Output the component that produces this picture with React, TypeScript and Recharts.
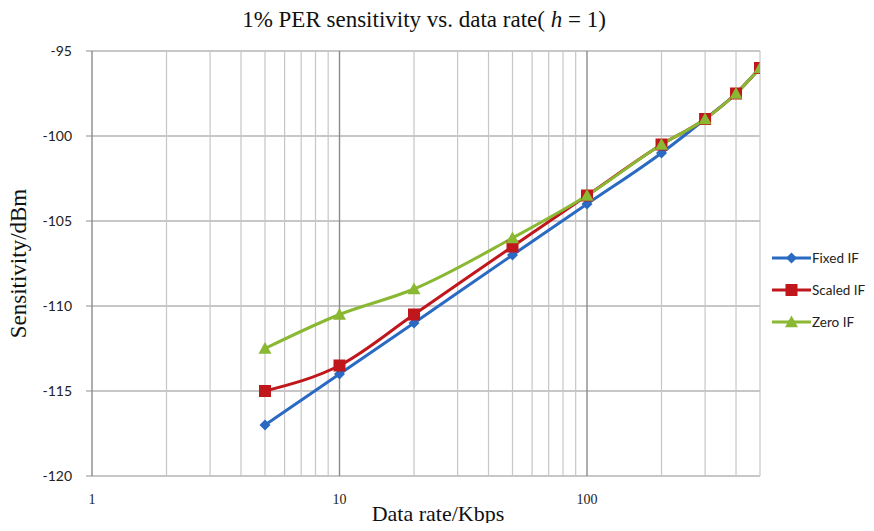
import {
  CartesianGrid,
  Label,
  Legend,
  Line,
  LineChart,
  ReferenceLine,
  XAxis,
  YAxis,
} from "recharts";

const rates = [5, 10, 20, 50, 100, 200, 300, 400, 500];
const fixedIF = [-117, -114, -111, -107, -104, -101, -99, -97.5, -96];
const scaledIF = [-115, -113.5, -110.5, -106.5, -103.5, -100.5, -99, -97.5, -96];
const zeroIF = [-112.5, -110.5, -109, -106, -103.5, -100.5, -99, -97.5, -96];

const majorX = [1, 10, 100];
const minorX = [2, 3, 4, 5, 6, 7, 8, 9, 20, 30, 40, 50, 60, 70, 80, 90, 200, 300, 400, 500];
const yTicks = [-120, -115, -110, -105, -100, -95];

const chartData = rates.map((rate, i) => ({
  rate,
  fixed: fixedIF[i],
  scaled: scaledIF[i],
  zero: zeroIF[i],
}));

const series = [
  { key: "fixed", name: "Fixed IF", color: "#2a6ac2", shape: "diamond" },
  { key: "scaled", name: "Scaled IF", color: "#c0171d", shape: "square" },
  { key: "zero", name: "Zero IF", color: "#8ab833", shape: "triangle" },
];

const serif = "'Liberation Serif', 'Times New Roman', serif";
const sans = "Lato, 'Open Sans', sans-serif";

function Marker({ cx, cy, shape, color }: { cx: number; cy: number; shape: string; color: string }) {
  if (shape === "diamond") {
    const r = 5.5;
    return <polygon points={`${cx},${cy - r} ${cx + r},${cy} ${cx},${cy + r} ${cx - r},${cy}`} fill={color} />;
  }
  if (shape === "square") {
    const r = 6;
    return <rect x={cx - r} y={cy - r} width={2 * r} height={2 * r} fill={color} />;
  }
  const r = 6.5;
  return <polygon points={`${cx},${cy - r} ${cx + r},${cy + r * 0.8} ${cx - r},${cy + r * 0.8}`} fill={color} />;
}

function renderLegend() {
  return (
    <div style={{ fontFamily: sans, fontSize: 13.5, color: "#222" }}>
      {series.map((s) => (
        <div key={s.key} style={{ display: "flex", alignItems: "center", height: 32 }}>
          <svg width={39} height={16}>
            <line x1={0} y1={8} x2={39} y2={8} stroke={s.color} strokeWidth={3} />
            <Marker cx={19.5} cy={8} shape={s.shape} color={s.color} />
          </svg>
          <span style={{ marginLeft: 1, whiteSpace: "nowrap" }}>{s.name}</span>
        </div>
      ))}
    </div>
  );
}

export default function App() {
  return (
    <div style={{ position: "relative", width: 874, height: 531, margin: -8, background: "#fff" }}>
      <div
        style={{
          position: "absolute",
          top: 7,
          left: -13,
          width: 874,
          textAlign: "center",
          fontFamily: serif,
          fontSize: 23,
          color: "#111",
        }}
      >
        1% PER sensitivity vs. data rate( <i>h</i> = 1)
      </div>
      <LineChart
        width={874}
        height={531}
        data={chartData}
        margin={{ top: 51, right: 114, bottom: 0, left: 0 }}
      >
        <CartesianGrid vertical={false} stroke="#8f8f8f" strokeWidth={1.2} />
        {minorX.map((v) => (
          <ReferenceLine key={`mi${v}`} x={v} stroke="#c6c6c6" strokeWidth={1.2} />
        ))}
        {majorX.map((v) => (
          <ReferenceLine key={`ma${v}`} x={v} stroke="#8a8a8a" strokeWidth={1.4} />
        ))}
        <XAxis
          dataKey="rate"
          type="number"
          scale="log"
          domain={[1, 500]}
          ticks={majorX}
          allowDataOverflow
          axisLine={false}
          tickLine={false}
          tickMargin={12}
          height={55}
          tick={{ fontSize: 14, fill: "#222", fontFamily: serif }}
        >
          <Label
            value="Data rate/Kbps"
            position="insideBottom"
            offset={10}
            dx={12}
            style={{ fontSize: 22, fill: "#111", fontFamily: serif }}
          />
        </XAxis>
        <YAxis
          type="number"
          domain={[-120, -95]}
          ticks={yTicks}
          width={92}
          axisLine={false}
          tickLine={{ stroke: "#8f8f8f" }}
          tickSize={6}
          tickMargin={14}
          tick={{ fontSize: 14, fill: "#222", fontFamily: sans }}
        >
          <Label
            value="Sensitivity/dBm"
            angle={-90}
            position="insideLeft"
            offset={18}
            style={{ textAnchor: "middle", fontSize: 23, fill: "#111", fontFamily: serif }}
          />
        </YAxis>
        <Legend
          layout="horizontal"
          align="center"
          verticalAlign="middle"
          content={renderLegend}
          wrapperStyle={{ top: 242, left: 772, width: 100 }}
        />
        {series.map((s) => (
          <Line
            key={s.key}
            dataKey={s.key}
            name={s.name}
            type="monotone"
            stroke={s.color}
            strokeWidth={3}
            isAnimationActive={false}
            dot={(p: any) => <Marker key={`${s.key}${p.index}`} cx={p.cx} cy={p.cy} shape={s.shape} color={s.color} />}
            activeDot={false}
          />
        ))}
      </LineChart>
    </div>
  );
}
